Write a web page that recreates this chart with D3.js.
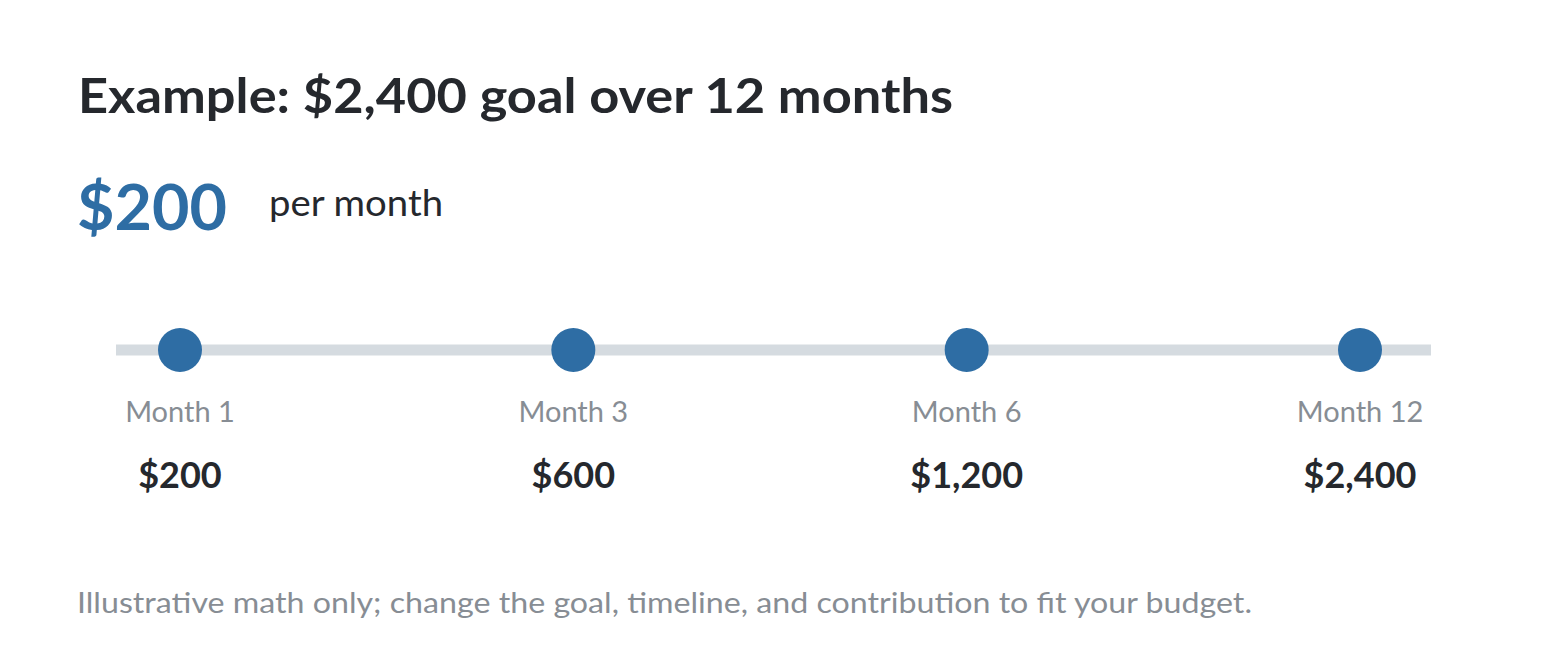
<!DOCTYPE html>
<html><head><meta charset="utf-8">
<script src="https://cdn.jsdelivr.net/npm/d3@7"></script>
<style>body{margin:0;background:#fff}svg{display:block}text{font-family:Lato,"Noto Sans",sans-serif}</style>
</head><body>
<svg id="c" width="1546" height="660"></svg>
<script>
const title = "Example: $2,400 goal over 12 months";
const perMonth = "$200";
const perMonthLabel = "per month";
const months = ["Month 1","Month 3","Month 6","Month 12"];
const totals = [200, 600, 1200, 2400];
const note = "Illustrative math only; change the goal, timeline, and contribution to fit your budget.";

const svg = d3.select("#c");
const blue = "#2e6da4", dark = "#25282d", gray = "#878d94";
svg.append("text").attr("x",78).attr("y",113).attr("font-size",48).attr("font-weight",700).attr("fill",dark)
  .attr("textLength",875).attr("lengthAdjust","spacingAndGlyphs").text(title);
svg.append("text").attr("x",77).attr("y",230).attr("font-size",64).attr("font-weight",700).attr("fill",blue)
  .attr("textLength",150).attr("lengthAdjust","spacingAndGlyphs").text(perMonth);
svg.append("text").attr("x",269).attr("y",216).attr("font-size",37).attr("fill",dark)
  .attr("textLength",174).attr("lengthAdjust","spacingAndGlyphs").text(perMonthLabel);

const x = d3.scalePoint().domain(months).range([180,1360]);
svg.append("line").attr("x1",116).attr("x2",1431).attr("y1",350).attr("y2",350).attr("stroke","#d5dbe0").attr("stroke-width",11);
const g = svg.selectAll("g.pt").data(months).join("g").attr("transform",d=>`translate(${x(d)},0)`);
g.append("circle").attr("cy",350).attr("r",22).attr("fill",blue);
g.append("text").attr("y",422).attr("text-anchor","middle").attr("font-size",29).attr("fill",gray).text(d=>d);
g.append("text").attr("y",488).attr("text-anchor","middle").attr("font-size",36).attr("font-weight",700).attr("fill",dark)
  .text((d,i)=>"$"+d3.format(",")(totals[i]));
svg.append("text").attr("x",77).attr("y",613).attr("font-size",29).attr("fill",gray)
  .attr("textLength",1175).attr("lengthAdjust","spacingAndGlyphs").text(note);
</script></body></html>
